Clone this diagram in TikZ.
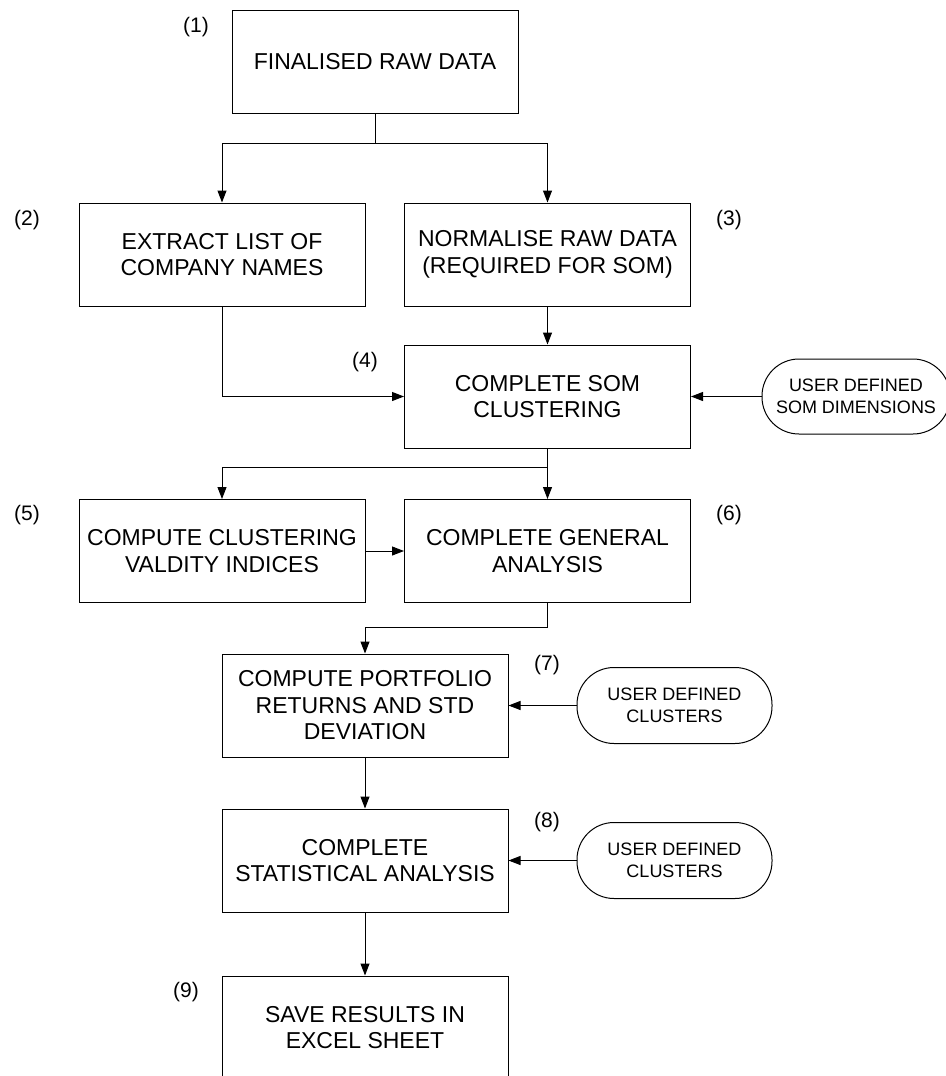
\documentclass[tikz,border=0pt]{standalone}
\usepackage{fontspec}
\setmainfont{Liberation Sans}
\usetikzlibrary{arrows.meta,calc}

\begin{document}
\begin{tikzpicture}[x=1pt,y=-1pt,
  line width=1pt,
  stepbox/.style={draw, rectangle, minimum width=286pt, minimum height=103pt,
    inner sep=0pt, align=center, font=\fontsize{23}{26.5}\selectfont},
  userbox/.style={draw, rectangle, rounded corners=37pt, inner sep=0pt,
    minimum height=76pt, align=center, font=\fontsize{18}{21.5}\selectfont},
  numlabel/.style={font=\fontsize{21}{24}\selectfont, inner sep=0pt},
  arr/.style={-{Triangle[length=12pt,width=9pt]}}
]
\useasboundingbox (0,0) rectangle (945,1076);

% process steps
\node[stepbox] (b1) at (375,61.5) {FINALISED RAW DATA};
\node[stepbox] (b2) at (222,254.5) {EXTRACT LIST OF\\COMPANY NAMES};
\node[stepbox] (b3) at (547.5,254.5) {NORMALISE RAW DATA\\(REQUIRED FOR SOM)};
\node[stepbox] (b4) at (547.5,396.5) {COMPLETE SOM\\CLUSTERING};
\node[stepbox] (b5) at (222,551) {COMPUTE CLUSTERING\\VALDITY INDICES};
\node[stepbox] (b6) at (547.5,551) {COMPLETE GENERAL\\ANALYSIS};
\node[stepbox] (b7) at (365,705.5) {COMPUTE PORTFOLIO\\RETURNS AND STD\\DEVIATION};
\node[stepbox] (b8) at (365,860.5) {COMPLETE\\STATISTICAL ANALYSIS};
\node[stepbox] (b9) at (365,1027.5) {SAVE RESULTS IN\\EXCEL SHEET};

% user inputs
\node[userbox, minimum width=188pt, minimum height=75pt] (t1) at (856,396.5) {USER DEFINED\\SOM DIMENSIONS};
\node[userbox, minimum width=195pt] (t2) at (674.5,705.5) {USER DEFINED\\CLUSTERS};
\node[userbox, minimum width=195pt] (t3) at (674.5,860.5) {USER DEFINED\\CLUSTERS};

% step numbers
\node[numlabel] (n1) at (196,27) {(1)};
\node[numlabel] (n2) at (27,220) {(2)};
\node[numlabel] (n3) at (729,220) {(3)};
\node[numlabel] (n4) at (365,362) {(4)};
\node[numlabel] (n5) at (27,515) {(5)};
\node[numlabel] (n6) at (729,515) {(6)};
\node[numlabel] (n7) at (547,665) {(7)};
\node[numlabel] (n8) at (547,822) {(8)};
\node[numlabel] (n9) at (186,992) {(9)};

% connectors
\coordinate (j1) at ($(b1.south)+(0,30)$);
\draw[arr] (b1.south) -- (j1) -| (b2.north);
\draw[arr] (j1) -| (b3.north);
\draw[arr] (b2.south) |- (b4.west);
\draw[arr] (b3.south) -- (b4.north);
\draw[arr] (t1.west) -- (b4.east);
\coordinate (j2) at ($(b4.south)+(0,19)$);
\draw[arr] (b4.south) -- (j2) -| (b5.north);
\draw[arr] (j2) -- (b6.north);
\draw[arr] (b5.east) -- (b6.west);
\coordinate (j3) at ($(b6.south)+(0,24)$);
\draw[arr] (b6.south) -- (j3) -| (b7.north);
\draw[arr] (t2.west) -- (b7.east);
\draw[arr] (b7.south) -- (b8.north);
\draw[arr] (t3.west) -- (b8.east);
\draw[arr] (b8.south) -- (b9.north);
\end{tikzpicture}
\end{document}
